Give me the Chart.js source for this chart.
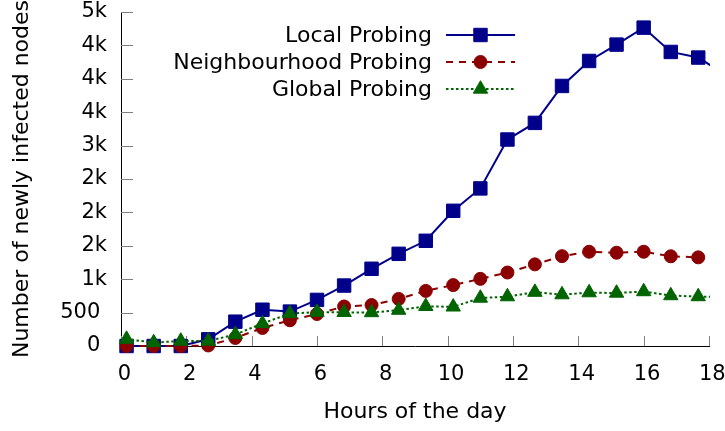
<!DOCTYPE html>
<html>
<head>
<meta charset="utf-8">
<script src="https://cdn.jsdelivr.net/npm/chart.js@4.4.0/dist/chart.umd.min.js"></script>
<style>
  html, body { margin: 0; padding: 0; background: #fff; }
  canvas { display: block; }
</style>
</head>
<body>
<canvas id="chart" width="725" height="431"></canvas>
<script>
// sample times (hours) and newly infected nodes per strategy
const hours = [0.17, 1.0, 1.83, 2.67, 3.5, 4.33, 5.17, 6.0, 6.83, 7.67, 8.5, 9.33, 10.17, 11.0, 11.83, 12.67, 13.5, 14.33, 15.17, 16.0, 16.83, 17.67, 18.5];
const localProbing = [0, 0, 0, 100, 364, 543, 515, 690, 905, 1156, 1380, 1575, 2024, 2359, 3091, 3340, 3893, 4267, 4512, 4766, 4402, 4318, 4060];
const neighbourhoodProbing = [0, 0, 0, 8, 120, 270, 385, 479, 592, 613, 705, 825, 912, 1005, 1100, 1222, 1345, 1411, 1396, 1411, 1343, 1327, null];
const globalProbing = [103, 51, 75, 75, 172, 337, 486, 507, 504, 501, 537, 594, 586, 718, 739, 806, 769, 799, 793, 815, 755, 740, 730];
const xTicks = [0, 2, 4, 6, 8, 10, 12, 14, 16, 18];
const yTickLabels = ['0 ', '500 ', '1k', '2k', '2k', '2k', '3k', '4k', '4k', '4k', '5k'];
const seriesNames = ['Local Probing', 'Neighbourhood Probing', 'Global Probing'];

const FAMILY = "'DejaVu Sans'";
const TEXT_SIZE = 22;
Chart.defaults.font.family = FAMILY;
Chart.defaults.font.size = 21;
Chart.defaults.color = '#000';

const toPoints = vals => hours.map((h, i) => ({ x: h, y: vals[i] }));

// gnuplot style ticks, drawn inward
const innerTicks = {
  id: 'innerTicks',
  beforeDatasetsDraw(chart) {
    const { ctx, chartArea, scales: { x, y } } = chart;
    ctx.save();
    ctx.strokeStyle = '#808080';
    ctx.lineWidth = 1;
    ctx.beginPath();
    y.ticks.forEach(t => {
      const py = Math.round(y.getPixelForValue(t.value)) + 0.5;
      ctx.moveTo(chartArea.left, py);
      ctx.lineTo(chartArea.left + 12, py);
    });
    x.ticks.forEach(t => {
      const px = Math.round(x.getPixelForValue(t.value)) + 0.5;
      ctx.moveTo(px, chartArea.bottom);
      ctx.lineTo(px, chartArea.bottom - 10);
    });
    ctx.stroke();
    ctx.restore();
  }
};

// key: label on the left, sample on the right
const keyBox = {
  id: 'keyBox',
  afterDraw(chart) {
    const { ctx, chartArea } = chart;
    const textRight = chartArea.left + 311;
    const lineStart = chartArea.left + 325;
    const lineEnd = chartArea.left + 394;
    ctx.save();
    ctx.font = TEXT_SIZE + 'px ' + FAMILY;
    ctx.textAlign = 'right';
    ctx.textBaseline = 'middle';
    chart.data.datasets.forEach((ds, i) => {
      const rowY = chartArea.top + 23 + i * 27;
      ctx.fillStyle = '#000';
      ctx.fillText(ds.label, textRight, rowY + 1);
      ctx.strokeStyle = ds.borderColor;
      ctx.lineWidth = ds.borderWidth;
      ctx.setLineDash(ds.borderDash || []);
      ctx.beginPath();
      ctx.moveTo(lineStart, rowY);
      ctx.lineTo(lineEnd, rowY);
      ctx.stroke();
      ctx.setLineDash([]);
      ctx.fillStyle = ds.pointBackgroundColor;
      ctx.strokeStyle = ds.pointBorderColor;
      ctx.lineWidth = 1;
      Chart.helpers.drawPoint(ctx, { pointStyle: ds.pointStyle, radius: ds.pointRadius, borderWidth: 1, rotation: 0 }, (lineStart + lineEnd) / 2, rowY);
    });
    ctx.restore();
  }
};

const clipArea = { left: false, top: false, right: 1, bottom: false };

new Chart(document.getElementById('chart'), {
  type: 'line',
  data: {
    datasets: [
      {
        label: seriesNames[0],
        data: toPoints(localProbing),
        borderColor: '#00008b',
        backgroundColor: '#00008b',
        pointBackgroundColor: '#00008b',
        pointBorderColor: '#00008b',
        borderWidth: 2,
        pointStyle: 'rect',
        pointRadius: 9.5,
        pointBorderWidth: 1,
        order: 2,
        clip: clipArea
      },
      {
        label: seriesNames[1],
        data: toPoints(neighbourhoodProbing),
        borderColor: '#8b0000',
        backgroundColor: '#8b0000',
        pointBackgroundColor: '#8b0000',
        pointBorderColor: '#8b0000',
        borderWidth: 2,
        borderDash: [7, 6],
        pointStyle: 'circle',
        pointRadius: 6.5,
        pointBorderWidth: 1,
        order: 1,
        clip: clipArea
      },
      {
        label: seriesNames[2],
        data: toPoints(globalProbing),
        borderColor: '#006400',
        backgroundColor: '#006400',
        pointBackgroundColor: '#006400',
        pointBorderColor: '#006400',
        borderWidth: 2,
        borderDash: [2.5, 2.5],
        pointStyle: 'triangle',
        pointRadius: 8.3,
        pointBorderWidth: 1,
        order: 0,
        clip: clipArea
      }
    ]
  },
  options: {
    responsive: false,
    animation: false,
    layout: { padding: { top: 12, right: 16, left: 0, bottom: 0 } },
    plugins: {
      legend: { display: false },
      tooltip: { enabled: false }
    },
    elements: { line: { tension: 0 } },
    scales: {
      x: {
        type: 'linear',
        min: 0,
        max: 18,
        grid: { display: false, drawTicks: false },
        border: { color: '#000', width: 1 },
        afterBuildTicks: s => { s.ticks = xTicks.map(v => ({ value: v })); },
        // leading space nudges the label a few px right, as gnuplot does
        ticks: { padding: 16, maxRotation: 0, autoSkip: false, callback: v => ' ' + v },
        title: { display: true, text: 'Hours of the day', font: { size: TEXT_SIZE }, padding: { top: 0, bottom: 6 } },
        afterFit: s => { s.height = 85; s.paddingLeft = 0; s.paddingRight = 0; }
      },
      y: {
        min: 0,
        max: 5000,
        grid: { display: false, drawTicks: false },
        border: { color: '#000', width: 1 },
        ticks: { stepSize: 500, padding: 14, callback: (v, i) => yTickLabels[i] },
        title: { display: true, text: 'Number of newly infected nodes', font: { size: TEXT_SIZE }, padding: { top: 9, bottom: 0 } },
        afterFit: s => { s.width = 121; s.paddingTop = 0; s.paddingBottom = 0; }
      }
    }
  },
  plugins: [innerTicks, keyBox]
});
</script>
</body>
</html>
